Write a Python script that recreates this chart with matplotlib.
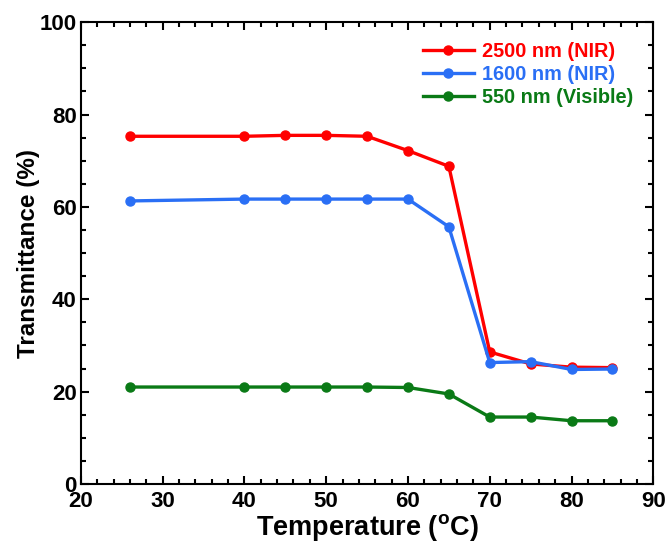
import matplotlib
matplotlib.use("Agg")
import matplotlib.pyplot as plt
from matplotlib.ticker import MultipleLocator

temps = [26, 40, 45, 50, 55, 60, 65, 70, 75, 80, 85]
nir_2500 = [75.3, 75.3, 75.5, 75.5, 75.3, 72.2, 68.8, 28.6, 26.0, 25.3, 25.2]
nir_1600 = [61.3, 61.7, 61.7, 61.7, 61.7, 61.7, 55.7, 26.3, 26.5, 24.8, 24.9]
vis_550 = [21.0, 21.0, 21.0, 21.0, 21.0, 20.9, 19.5, 14.5, 14.5, 13.7, 13.7]

labels = ["2500 nm (NIR)", "1600 nm (NIR)", "550 nm (Visible)"]
colors = ["#ff0000", "#2a6ff5", "#0a7a16"]

plt.rcParams['font.family'] = ['Liberation Sans', 'DejaVu Sans']
plt.rcParams['font.weight'] = 'bold'

fig = plt.figure(figsize=(6.68, 5.42), dpi=100)
ax = fig.add_axes([0.121, 0.107, 0.857, 0.852])

for ys, lab, c in zip([nir_2500, nir_1600, vis_550], labels, colors):
    ax.plot(temps, ys, color=c, lw=2.4, marker='o', ms=6.5, label=lab)

ax.set_xlim(20, 90)
ax.set_ylim(0, 100)
ax.xaxis.set_major_locator(MultipleLocator(10))
ax.xaxis.set_minor_locator(MultipleLocator(2))
ax.yaxis.set_major_locator(MultipleLocator(20))
ax.yaxis.set_minor_locator(MultipleLocator(5))
ax.tick_params(which='both', direction='in', top=True, right=True, width=1.5,
               labelsize=16)
ax.tick_params(axis='x', which='major', pad=5)
ax.tick_params(axis='y', which='major', pad=3)
ax.tick_params(which='major', length=6)
ax.tick_params(which='minor', length=3.5)
for sp in ax.spines.values():
    sp.set_linewidth(1.5)

ax.set_xlabel(r'Temperature ($\mathregular{^{o}}$C)', fontsize=19.5, fontweight='bold', labelpad=0)
ax.set_ylabel('Transmittance (%)', fontsize=17.5, fontweight='bold', labelpad=0)

leg = ax.legend(loc='upper right', frameon=False, handlelength=2.6,
                handletextpad=0.4, labelspacing=0.2, borderaxespad=0.6,
                prop={'weight': 'bold', 'size': 14.3})
for txt, c in zip(leg.get_texts(), colors):
    txt.set_color(c)

fig.savefig("out.png", dpi=100)
